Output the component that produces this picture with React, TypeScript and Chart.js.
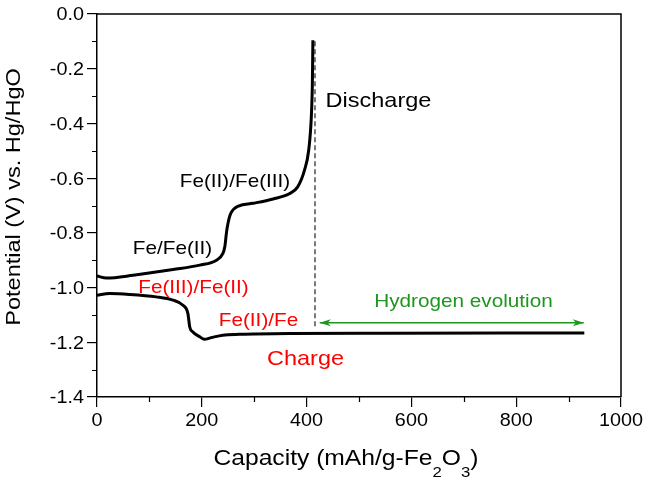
import React, { useEffect, useRef } from 'react';
import { Chart, registerables } from 'chart.js';

Chart.register(...registerables);

// ---- data ----
const dischargeCapacity = [0, 18, 69, 145, 196, 228, 240, 244, 247, 250, 254, 260, 270, 298, 336, 367, 383, 396, 404, 409, 411, 412];
const dischargePotential = [-0.958, -0.965, -0.955, -0.934, -0.918, -0.9, -0.876, -0.85, -0.8, -0.765, -0.735, -0.715, -0.702, -0.692, -0.676, -0.657, -0.632, -0.571, -0.498, -0.376, -0.254, -0.096];

const chargeCapacity = [0, 24, 62, 113, 145, 164, 173.5, 177, 183, 196, 205, 218, 240, 272, 367, 558, 930];
const chargePotential = [-1.028, -1.022, -1.025, -1.034, -1.046, -1.065, -1.095, -1.144, -1.162, -1.18, -1.189, -1.183, -1.174, -1.171, -1.168, -1.167, -1.166];

const cutoffCapacity = [416, 416];
const cutoffPotential = [-0.1, -1.147];

const h2ArrowCapacity = [425, 929];
const h2ArrowPotential = [-1.129, -1.129];

const xMinorTicks = [100, 300, 500, 700, 900];
const yMinorTicks = [-0.1, -0.3, -0.5, -0.7, -0.9, -1.1, -1.3];

const xTitleParts = [
  { text: 'Capacity (mAh/g-Fe', sub: false },
  { text: '2', sub: true },
  { text: 'O', sub: false },
  { text: '3', sub: true },
  { text: ')', sub: false },
];
const yTitle = 'Potential (V) vs. Hg/HgO';

const annotations = [
  { text: 'Discharge', x: 378.5, y: 107, size: 21, color: '#000000' },
  { text: 'Fe(II)/Fe(III)', x: 235, y: 187, size: 18.5, color: '#000000' },
  { text: 'Fe/Fe(II)', x: 172.5, y: 254, size: 18.5, color: '#000000' },
  { text: 'Fe(III)/Fe(II)', x: 193.5, y: 293, size: 18.5, color: '#ff0000' },
  { text: 'Fe(II)/Fe', x: 258.5, y: 326, size: 18.5, color: '#ff0000' },
  { text: 'Charge', x: 305.5, y: 365, size: 21, color: '#ff0000' },
  { text: 'Hydrogen evolution', x: 463.5, y: 307, size: 18.5, color: '#1e961e' },
];

const FONT = "'Liberation Sans', Arial, sans-serif";
const GREEN = '#1e961e';
const STRETCH = 1.12;
const TICK_SIZE = 17.7;

const toPoints = (xs: number[], ys: number[]) => xs.map((x, i) => ({ x, y: ys[i] }));
const fmtY = (v: number) => {
  const n = Math.round(v * 10) / 10;
  return n === 0 ? '0.0' : n.toFixed(1);
};
const fmtX = (v: number) => String(Math.round(v));

const decorPlugin = {
  id: 'decor',
  afterDraw(chart: any) {
    const { ctx, chartArea: a, scales } = chart;
    const xs = scales.x;
    const ys = scales.y;
    ctx.save();
    // frame top/right
    ctx.strokeStyle = '#000';
    ctx.lineWidth = 1.5;
    ctx.beginPath();
    ctx.moveTo(a.left, a.top);
    ctx.lineTo(a.right, a.top);
    ctx.lineTo(a.right, a.bottom);
    ctx.stroke();
    // minor ticks
    ctx.lineWidth = 1.2;
    ctx.beginPath();
    for (const v of xMinorTicks) {
      const px = Math.round(xs.getPixelForValue(v)) + 0.5;
      ctx.moveTo(px, a.bottom);
      ctx.lineTo(px, a.bottom + 5);
    }
    for (const v of yMinorTicks) {
      const py = Math.round(ys.getPixelForValue(v)) + 0.5;
      ctx.moveTo(a.left, py);
      ctx.lineTo(a.left - 5, py);
    }
    ctx.stroke();

    // tick labels (stretched like the reference)
    ctx.fillStyle = '#000';
    ctx.font = `${TICK_SIZE}px ${FONT}`;
    ctx.textBaseline = 'alphabetic';
    ctx.textAlign = 'center';
    for (const t of xs.ticks) {
      const px = xs.getPixelForValue(t.value);
      ctx.save();
      ctx.translate(px, 426);
      ctx.scale(STRETCH, 1);
      ctx.fillText(fmtX(t.value), 0, 0);
      ctx.restore();
    }
    ctx.textAlign = 'right';
    for (const t of ys.ticks) {
      const py = ys.getPixelForValue(t.value);
      ctx.save();
      ctx.translate(84, py + 6.4);
      ctx.scale(STRETCH, 1);
      ctx.fillText(fmtY(t.value), 0, 0);
      ctx.restore();
    }

    // arrow heads
    const ay = ys.getPixelForValue(h2ArrowPotential[0]);
    const x1 = xs.getPixelForValue(h2ArrowCapacity[0]);
    const x2 = xs.getPixelForValue(h2ArrowCapacity[1]);
    ctx.fillStyle = GREEN;
    ctx.beginPath();
    ctx.moveTo(x1, ay);
    ctx.lineTo(x1 + 11, ay - 3.5);
    ctx.lineTo(x1 + 8, ay);
    ctx.lineTo(x1 + 11, ay + 3.5);
    ctx.closePath();
    ctx.fill();
    ctx.beginPath();
    ctx.moveTo(x2, ay);
    ctx.lineTo(x2 - 11, ay - 3.5);
    ctx.lineTo(x2 - 8, ay);
    ctx.lineTo(x2 - 11, ay + 3.5);
    ctx.closePath();
    ctx.fill();

    // annotations
    ctx.textBaseline = 'alphabetic';
    ctx.textAlign = 'center';
    for (const an of annotations) {
      ctx.save();
      ctx.font = `${an.size}px ${FONT}`;
      ctx.fillStyle = an.color;
      ctx.translate(an.x, an.y);
      ctx.scale(STRETCH, 1);
      ctx.fillText(an.text, 0, 0);
      ctx.restore();
    }

    // x title with subscripts
    const mainSize = 22;
    const subSize = 15;
    ctx.save();
    ctx.fillStyle = '#000';
    ctx.textAlign = 'left';
    let total = 0;
    for (const p of xTitleParts) {
      ctx.font = `${p.sub ? subSize : mainSize}px ${FONT}`;
      total += ctx.measureText(p.text).width * STRETCH;
    }
    const cx = (a.left + a.right) / 2 - 13;
    let cur = cx - total / 2;
    const base = 465;
    for (const p of xTitleParts) {
      ctx.font = `${p.sub ? subSize : mainSize}px ${FONT}`;
      const w = ctx.measureText(p.text).width * STRETCH;
      ctx.save();
      ctx.translate(cur, p.sub ? base + 12 : base);
      ctx.scale(STRETCH, 1);
      ctx.fillText(p.text, 0, 0);
      ctx.restore();
      cur += w;
    }
    ctx.restore();

    // y title
    ctx.save();
    ctx.fillStyle = '#000';
    ctx.font = `21px ${FONT}`;
    ctx.textAlign = 'center';
    ctx.translate(20, 197);
    ctx.rotate(-Math.PI / 2);
    ctx.scale(STRETCH, 1);
    ctx.fillText(yTitle, 0, 0);
    ctx.restore();

    ctx.restore();
  },
};

export default function App() {
  const ref = useRef<HTMLCanvasElement | null>(null);
  useEffect(() => {
    if (!ref.current) return;
    const chart = new Chart(ref.current, {
      type: 'line',
      data: {
        datasets: [
          {
            data: toPoints(chargeCapacity, chargePotential),
            borderColor: '#000',
            borderWidth: 3,
            pointRadius: 0,
            cubicInterpolationMode: 'monotone',
          },
          {
            data: toPoints(dischargeCapacity, dischargePotential),
            borderColor: '#000',
            borderWidth: 3,
            pointRadius: 0,
            cubicInterpolationMode: 'monotone',
          },
          {
            data: toPoints(cutoffCapacity, cutoffPotential),
            borderColor: '#333',
            borderWidth: 1.3,
            borderDash: [5, 3],
            pointRadius: 0,
          },
          {
            data: toPoints(h2ArrowCapacity, h2ArrowPotential),
            borderColor: GREEN,
            borderWidth: 1.5,
            pointRadius: 0,
          },
        ],
      },
      options: {
        animation: false,
        responsive: false,
        devicePixelRatio: 1,
        layout: { padding: { top: 14, right: 25, left: 0, bottom: 0 } },
        plugins: { legend: { display: false }, tooltip: { enabled: false } },
        scales: {
          x: {
            type: 'linear',
            min: 0,
            max: 1000,
            ticks: {
              stepSize: 200,
              display: false,
              maxRotation: 0,
            },
            grid: { drawOnChartArea: false, drawTicks: true, tickLength: 10, color: '#000', lineWidth: 1.2 },
            border: { display: true, color: '#000', width: 1.5 },
            afterFit: (s: any) => {
              s.height = 86;
            },
          },
          y: {
            type: 'linear',
            min: -1.4,
            max: 0,
            ticks: {
              stepSize: 0.2,
              display: false,
            },
            grid: { drawOnChartArea: false, drawTicks: true, tickLength: 10, color: '#000', lineWidth: 1.2 },
            border: { display: true, color: '#000', width: 1.5 },
            afterFit: (s: any) => {
              s.width = 97;
            },
          },
        },
      } as any,
      plugins: [decorPlugin],
    });
    return () => chart.destroy();
  }, []);
  return (
    <div style={{ position: 'fixed', left: 0, top: 0, width: 646, height: 483, background: '#fff' }}>
      <canvas ref={ref} width={646} height={483} style={{ display: 'block' }} />
    </div>
  );
}
